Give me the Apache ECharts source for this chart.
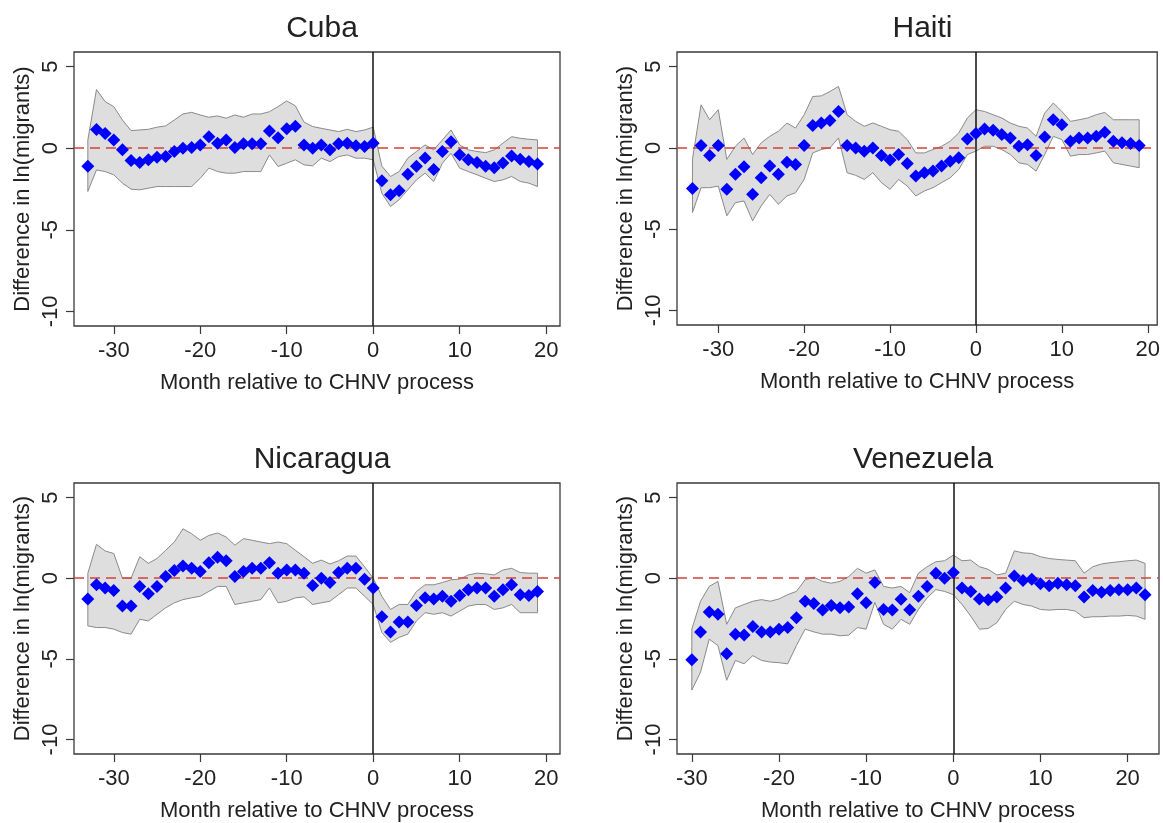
<!DOCTYPE html>
<html>
<head>
<meta charset="utf-8">
<title>CHNV event study</title>
<script src="https://cdn.jsdelivr.net/npm/echarts@6/dist/echarts.min.js"></script>
<style>
html,body{margin:0;padding:0;background:#fff;}
#chart{width:1163px;height:823px;}
</style>
</head>
<body>
<div id="chart"></div>
<script>
// months relative to the CHNV process
var monthsA = [-33,-32,-31,-30,-29,-28,-27,-26,-25,-24,-23,-22,-21,-20,-19,-18,-17,-16,-15,-14,-13,-12,-11,-10,-9,-8,-7,
	-6,-5,-4,-3,-2,-1,0,1,2,3,4,5,6,7,8,9,10,11,12,13,14,15,16,17,18,19];
var monthsB = [-30,-29,-28,-27,-26,-25,-24,-23,-22,-21,-20,-19,-18,-17,-16,-15,-14,-13,-12,-11,-10,-9,-8,-7,-6,-5,
	-4,-3,-2,-1,0,1,2,3,4,5,6,7,8,9,10,11,12,13,14,15,16,17,18,19,20,21,22];

var xTicks = [-30,-20,-10,0,10,20];
var yTicks = [-10,-5,0,5];

// Cuba
var cubaCoef = [-1.1,1.15,0.9,0.5,-0.1,-0.75,-0.88,-0.7,-0.55,-0.5,-0.2,0.0,0.05,0.2,0.7,0.3,0.5,0.05,0.27,0.27,0.27,1.05,0.65,1.2,1.35,0.2,0.0,
	0.2,-0.1,0.27,0.3,0.15,0.1,0.3,
	-2.0,-2.85,-2.6,-1.6,-1.1,-0.6,-1.3,-0.2,0.4,-0.4,-0.7,-0.88,-1.1,-1.2,-0.9,-0.47,-0.67,-0.82,-0.96];
var cubaUpper = [0.5,3.6,2.86,2.55,1.73,1.08,1.12,1.16,1.29,1.37,1.73,2.1,2.2,2.04,1.9,1.98,1.84,2.04,1.9,2.1,2.1,2.24,2.55,2.9,2.6,1.6,1.33,
	1.22,1.12,1.02,1.16,1.02,1.12,1.29,
	-1.1,-1.73,-1.43,-0.61,-0.2,0.2,-0.1,0.51,1.12,0.2,-0.1,-0.2,-0.27,-0.1,0.31,0.71,0.61,0.55,0.51];
var cubaLower = [-2.65,-1.33,-1.43,-1.63,-2.14,-2.51,-2.55,-2.45,-2.35,-2.35,-2.35,-2.35,-2.35,-1.84,-1.22,-1.43,-1.53,-1.53,-1.43,-1.43,-1.43,-0.41,-1.12,-0.92,-0.71,-1.02,-1.08,
	-0.61,-0.82,-0.51,-0.41,-0.61,-0.61,-0.71,
	-2.76,-3.57,-3.16,-2.55,-1.94,-1.53,-2.04,-0.92,-0.31,-1.22,-1.43,-1.63,-1.84,-2.04,-1.94,-1.73,-2.04,-2.14,-2.35];

// Haiti
var haitiCoef = [-2.5,0.14,-0.47,0.14,-2.55,-1.63,-1.16,-2.86,-1.84,-1.12,-1.63,-0.88,-1.02,0.14,1.37,1.53,1.69,2.24,0.14,0.0,-0.2,0.0,-0.47,-0.75,-0.41,-0.96,-1.73,
	-1.53,-1.43,-1.12,-0.82,-0.61,0.55,0.88,
	1.16,1.08,0.82,0.61,0.1,0.2,-0.47,0.67,1.73,1.43,0.41,0.61,0.61,0.71,0.96,0.41,0.31,0.27,0.14];
var haitiUpper = [-0.7,2.65,1.73,2.35,-0.71,0.1,0.61,-0.41,0.31,0.71,1.02,1.53,1.22,2.04,3.16,3.2,3.47,3.78,2.04,1.63,1.33,1.53,1.33,1.12,1.02,0.51,-0.31,
	-0.31,-0.1,0.1,0.41,0.92,1.84,2.35,
	2.24,2.04,1.84,1.53,1.33,1.22,0.71,2.14,2.76,2.24,1.63,1.73,1.84,2.04,2.18,1.73,1.73,1.73,1.73];
var haitiLower = [-3.98,-2.45,-2.45,-2.35,-4.18,-3.37,-3.27,-4.49,-3.57,-2.86,-3.47,-2.96,-2.76,-1.94,-0.31,-0.1,0.0,0.61,-1.53,-1.69,-1.94,-1.53,-2.14,-2.55,-1.94,-2.35,-2.96,
	-2.65,-2.45,-2.14,-1.84,-1.33,-0.41,-0.2,
	0.1,0.1,-0.1,-0.41,-0.92,-1.02,-1.43,-0.41,0.71,0.51,-0.51,-0.41,-0.41,-0.31,-0.2,-0.92,-1.02,-1.12,-1.22];

// Nicaragua
var nicaCoef = [-1.29,-0.41,-0.61,-0.76,-1.73,-1.73,-0.51,-0.96,-0.51,0.1,0.47,0.76,0.61,0.41,0.96,1.29,1.08,0.1,0.41,0.61,0.61,0.96,0.31,0.51,0.51,0.31,-0.45,
	0.0,-0.27,0.35,0.61,0.61,-0.06,-0.61,
	-2.39,-3.33,-2.71,-2.71,-1.69,-1.22,-1.29,-1.12,-1.43,-1.08,-0.71,-0.61,-0.61,-1.12,-0.71,-0.41,-1.02,-1.08,-0.82];
var nicaUpper = [0.3,2.1,1.69,1.53,0.0,0.0,1.33,0.92,1.22,1.73,2.24,3.06,2.76,2.35,2.65,2.8,2.55,2.04,2.45,2.35,2.24,2.14,2.24,2.14,1.73,1.33,0.92,
	1.12,0.88,1.08,1.37,1.37,0.71,0.0,
	-1.12,-1.94,-1.63,-1.63,-0.82,-0.41,-0.41,-0.27,-0.1,-0.06,0.2,0.31,0.27,0.2,0.51,0.61,0.35,0.31,0.31];
var nicaLower = [-2.96,-3.06,-3.06,-3.16,-3.37,-3.47,-2.55,-2.65,-2.24,-1.84,-1.53,-1.33,-1.22,-1.12,-0.82,-0.51,-0.51,-1.63,-1.53,-1.43,-1.33,-0.61,-1.53,-1.43,-1.22,-1.16,-1.63,
	-1.53,-1.43,-1.02,-0.61,-0.61,-1.12,-1.63,
	-3.37,-3.98,-3.67,-3.47,-2.65,-2.14,-2.24,-2.14,-2.35,-2.04,-1.73,-1.63,-1.63,-1.94,-1.84,-1.63,-2.14,-2.14,-2.14];

// Venezuela
var venezCoef = [-5.06,-3.33,-2.1,-2.24,-4.69,-3.47,-3.53,-3.0,-3.33,-3.33,-3.16,-3.06,-2.45,-1.43,-1.57,-1.98,-1.69,-1.84,-1.78,-0.96,-1.53,-0.27,-1.94,-1.98,-1.3,-1.96,
	-1.12,-0.51,0.31,0.0,0.35,
	-0.61,-0.82,-1.29,-1.33,-1.16,-0.61,0.14,-0.14,-0.06,-0.35,-0.47,-0.31,-0.41,-0.47,-1.16,-0.76,-0.88,-0.76,-0.71,-0.71,-0.61,-1.02];
var venezUpper = [-3.16,-1.43,-0.51,-0.2,-2.86,-1.84,-1.63,-1.43,-1.33,-1.43,-1.29,-1.02,-0.82,-0.1,0.06,-0.2,-0.31,-0.2,0.1,0.61,0.31,0.51,-0.51,-0.61,-0.51,-0.9,
	0.31,0.71,1.02,1.08,1.43,
	1.08,1.12,0.71,0.55,0.2,0.31,1.69,1.57,1.53,1.33,1.22,1.16,1.12,1.08,0.31,0.71,0.88,0.96,1.02,1.08,1.12,0.92];
var venezLower = [-6.94,-5.82,-3.78,-4.18,-6.33,-5.1,-5.31,-4.8,-5.1,-5.2,-5.24,-5.31,-4.18,-3.16,-3.33,-3.47,-3.47,-3.57,-3.53,-3.06,-3.16,-1.5,-2.86,-3.16,-2.55,-2.86,
	-1.94,-1.22,-0.71,-0.82,-1.02,
	-1.63,-2.35,-3.16,-3.12,-2.76,-1.94,-1.43,-1.63,-1.73,-1.94,-1.98,-1.94,-1.94,-2.04,-2.45,-2.39,-2.39,-2.35,-2.35,-2.31,-2.35,-2.55];

var FONT = '"Liberation Sans", Arial, Helvetica, sans-serif';
var TEXT_COLOR = '#222';

var panels = [
	{title:'Cuba', months:monthsA, coef:cubaCoef, upper:cubaUpper, lower:cubaLower, xMin:-34.6, xMax:21.6,
		left:74, top:52, width:486, height:274, titleTop:9},
	{title:'Haiti', months:monthsA, coef:haitiCoef, upper:haitiUpper, lower:haitiLower, xMin:-34.8, xMax:21.1,
		left:677, top:52, width:481, height:273, titleTop:9},
	{title:'Nicaragua', months:monthsA, coef:nicaCoef, upper:nicaUpper, lower:nicaLower, xMin:-34.6, xMax:21.6,
		left:74, top:483, width:486, height:276, titleTop:440},
	{title:'Venezuela', months:monthsB, coef:venezCoef, upper:venezUpper, lower:venezLower, xMin:-31.7, xMax:23.6,
		left:677, top:483, width:482, height:276, titleTop:440}
];

function pairs(xs, ys){
	var out = [];
	for (var i = 0; i < xs.length; i++){
		out.push([xs[i], ys[i]]);
	}
	return out;
}

// confidence band as one polygon: upper edge forward, lower edge back
function bandRenderer(p){
	return function(params, api){
		var pts = [];
		for (var k = 0; k < p.months.length; k++){
			pts.push(api.coord([p.months[k], p.upper[k]]));
		}
		for (var k = p.months.length - 1; k >= 0; k--){
			pts.push(api.coord([p.months[k], p.lower[k]]));
		}
		return {
			type:'polygon',
			shape:{points:pts},
			style:{fill:'#dedede', stroke:'#8a8a8a', lineWidth:1},
			silent:true
		};
	};
}

var grids = [], xAxes = [], yAxes = [], titles = [], series = [];

for (var i = 0; i < panels.length; i++){
	var p = panels[i];

	grids.push({left:p.left, top:p.top, width:p.width, height:p.height,
		show:true, borderColor:'#3a3a3a', borderWidth:1.3, backgroundColor:'#fff'});

	titles.push({text:p.title, left:p.left + p.width/2, top:p.titleTop, textAlign:'center',
		textStyle:{fontFamily:FONT, fontSize:30, fontWeight:'normal', color:TEXT_COLOR}});

	xAxes.push({
		type:'value', gridIndex:i, min:p.xMin, max:p.xMax,
		axisLine:{show:false, onZero:false},
		axisTick:{show:true, length:8, customValues:xTicks, lineStyle:{color:'#3a3a3a', width:1.2}},
		axisLabel:{customValues:xTicks, fontFamily:FONT, fontSize:22, color:TEXT_COLOR, margin:14},
		splitLine:{show:false},
		name:'Month relative to CHNV process', nameLocation:'middle', nameGap:46,
		nameTextStyle:{fontFamily:FONT, fontSize:22, color:TEXT_COLOR}
	});

	yAxes.push({
		type:'value', gridIndex:i, min:-10.9, max:5.9,
		axisLine:{show:false, onZero:false},
		axisTick:{show:true, length:8, customValues:yTicks, lineStyle:{color:'#3a3a3a', width:1.2}},
		axisLabel:{customValues:yTicks, rotate:90, fontFamily:FONT, fontSize:22, color:TEXT_COLOR, margin:12},
		splitLine:{show:false},
		name:'Difference in ln(migrants)', nameLocation:'middle', nameGap:40,
		nameTextStyle:{fontFamily:FONT, fontSize:22, color:TEXT_COLOR}
	});

	series.push({
		type:'custom', xAxisIndex:i, yAxisIndex:i, silent:true, z:2,
		data:[[p.months[0], p.lower[0]]],
		renderItem:bandRenderer(p)
	});

	// point estimates, with the reference lines at 0
	series.push({
		type:'scatter', xAxisIndex:i, yAxisIndex:i, data:pairs(p.months, p.coef),
		symbol:'diamond', symbolSize:[13,13], z:5,
		itemStyle:{color:'#0000ff', opacity:1},
		markLine:{
			silent:true, symbol:['none','none'], label:{show:false}, animation:false, z:3,
			data:[
				{yAxis:0, lineStyle:{color:'#d2423b', width:1.6, type:[10,6]}},
				{xAxis:0, lineStyle:{color:'#111', width:1.5, type:'solid'}}
			]
		}
	});
}

var myChart = echarts.init(document.getElementById('chart'), null, {renderer:'canvas'});
myChart.setOption({
	animation:false,
	backgroundColor:'#fff',
	title:titles,
	grid:grids,
	xAxis:xAxes,
	yAxis:yAxes,
	series:series
});
</script>
</body>
</html>
